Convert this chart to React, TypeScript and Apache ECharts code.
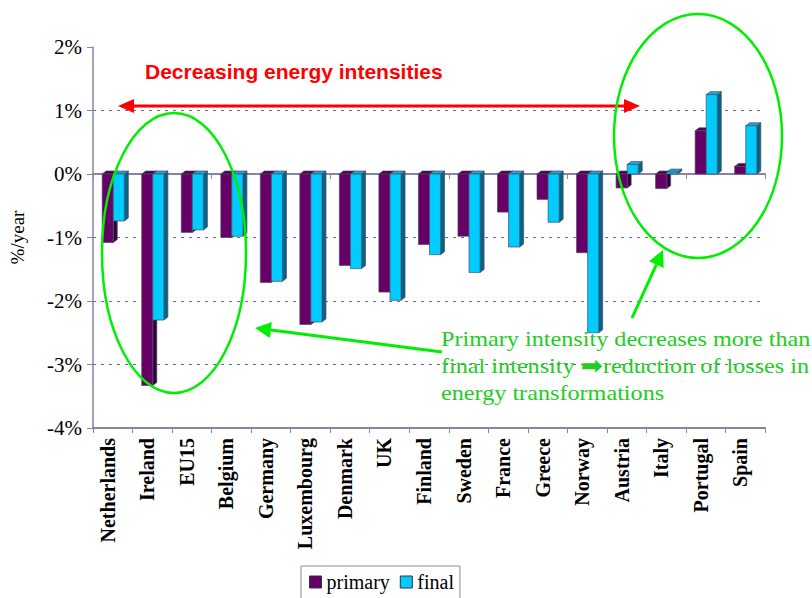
import React, { useEffect, useRef } from "react";
import * as echarts from "echarts";

// Average annual change in energy intensity, % per year
const countries = [
  "Netherlands", "Ireland", "EU15", "Belgium", "Germany", "Luxembourg", "Denmark", "UK",
  "Finland", "Sweden", "France", "Greece", "Norway", "Austria", "Italy", "Portugal", "Spain",
];
const primaryValues = [
  -1.08, -3.33, -0.92, -1.0, -1.71, -2.37, -1.44, -1.86, -1.11, -0.98, -0.6, -0.4, -1.24, -0.22, -0.23, 0.68, 0.12,
];
const finalValues = [
  -0.74, -2.3, -0.88, -0.98, -1.69, -2.33, -1.49, -1.99, -1.27, -1.55, -1.15, -0.76, -2.5, 0.15, 0.03, 1.25, 0.76,
];
const seriesNames = ["primary", "final"];
const yMin = -4;
const yMax = 2;
const yStep = 1;

const noteLines = [
  "Primary intensity decreases more than",
  "final intensity {a|\u27A1}reduction of losses in",
  "energy transformations",
];
const headline = "Decreasing energy intensities";

const EDGE = "#4a4a66";
const AXIS = "#8585a3";
const GREEN = "#00ee00";
const SERIF = "Liberation Serif";
const SANS = "Liberation Sans";

// Draws one bar as a front face with a shaded side and cap for a 3-D look.
function barRenderer(front: string, side: string, cap: string, shift: number) {
  return (params: any, api: any) => {
    const idx = api.value(0);
    const val = api.value(1);
    const base = api.coord([idx, 0]);
    const end = api.coord([idx, val]);
    const band = api.size([1, 0])[0];
    const w = band * 0.28;
    const left = base[0] + shift * w + 0.5;
    const right = left + w;
    const yTop = Math.min(base[1], end[1]);
    const yBot = Math.max(base[1], end[1]);
    const dx = 4;
    const dy = 3;
    return {
      type: "group",
      children: [
        {
          type: "polygon",
          shape: { points: [[right, yTop], [right + dx, yTop - dy], [right + dx, yBot - dy], [right, yBot]] },
          style: { fill: side, stroke: EDGE, lineWidth: 0.7 },
        },
        {
          type: "polygon",
          shape: { points: [[left, yTop], [left + dx, yTop - dy], [right + dx, yTop - dy], [right, yTop]] },
          style: { fill: cap, stroke: EDGE, lineWidth: 0.7 },
        },
        {
          type: "rect",
          shape: { x: left, y: yTop, width: w, height: yBot - yTop },
          style: { fill: front, stroke: EDGE, lineWidth: 0.7 },
        },
      ],
    };
  };
}

// Arrow head triangle pointing from tail to tip.
function arrowHead(tail: number[], tip: number[], len: number, half: number) {
  const vx = tip[0] - tail[0];
  const vy = tip[1] - tail[1];
  const d = Math.hypot(vx, vy);
  const ux = vx / d;
  const uy = vy / d;
  const bx = tip[0] - ux * len;
  const by = tip[1] - uy * len;
  return {
    base: [bx, by],
    points: [tip, [bx - uy * half, by + ux * half], [bx + uy * half, by - ux * half]],
  };
}

function arrow(tail: number[], tip: number[], color: string, width: number, len: number, half: number) {
  const head = arrowHead(tail, tip, len, half);
  return [
    {
      type: "line",
      z: 100,
      shape: { x1: tail[0], y1: tail[1], x2: head.base[0], y2: head.base[1] },
      style: { stroke: color, lineWidth: width },
    },
    { type: "polygon", z: 100, shape: { points: head.points }, style: { fill: color } },
  ];
}

export default function App() {
  const ref = useRef<HTMLDivElement>(null);

  useEffect(() => {
    if (!ref.current) return;
    const chart = echarts.init(ref.current, null, { renderer: "svg" });

    const redHeadL = arrowHead([640, 106], [118, 106], 16, 7);
    const redHeadR = arrowHead([118, 106], [640, 106], 16, 7);

    chart.setOption({
      animation: false,
      backgroundColor: "#ffffff",
      textStyle: { fontFamily: SERIF },
      grid: { left: 93, right: 47, top: 47, bottom: 170, containLabel: false },
      legend: {
        data: seriesNames,
        left: 301,
        top: 566,
        orient: "horizontal",
        icon: "rect",
        itemWidth: 12,
        itemHeight: 12,
        itemGap: 10,
        padding: [6, 6, 8, 8],
        borderColor: "#8a8aa0",
        borderWidth: 1,
        itemStyle: { borderColor: "#333344", borderWidth: 1 },
        textStyle: { fontFamily: SERIF, fontSize: 20, color: "#000" },
      },
      xAxis: [
        {
          type: "category",
          data: countries,
          position: "bottom",
          boundaryGap: true,
          axisLine: { onZero: false, lineStyle: { color: AXIS, width: 2 } },
          axisTick: { show: true, length: 5, lineStyle: { color: AXIS } },
          axisLabel: {
            interval: 0,
            rotate: 90,
            margin: 10,
            verticalAlign: "bottom",
            lineHeight: 10,
            fontFamily: SERIF,
            fontWeight: "bold",
            fontSize: 20,
            color: "#000",
          },
          splitLine: { show: false },
        },
        {
          type: "category",
          data: countries,
          position: "bottom",
          boundaryGap: true,
          axisLine: { onZero: true, lineStyle: { color: AXIS, width: 2 } },
          axisTick: { show: true, length: 5, lineStyle: { color: AXIS } },
          axisLabel: { show: false },
          splitLine: { show: false },
        },
      ],
      yAxis: {
        type: "value",
        min: yMin,
        max: yMax,
        interval: yStep,
        name: "%/year",
        nameLocation: "middle",
        nameGap: 66,
        nameRotate: 90,
        nameTextStyle: { fontFamily: SERIF, fontSize: 19, color: "#000" },
        axisLine: { show: true, lineStyle: { color: AXIS, width: 1.5 } },
        axisTick: { show: true, length: 6, lineStyle: { color: AXIS } },
        axisLabel: {
          margin: 11,
          fontFamily: SERIF,
          fontSize: 21,
          color: "#000",
          formatter: (v: number) => `${v}%`,
        },
        splitLine: {
          show: true,
          showMaxLine: false,
          showMinLine: false,
          lineStyle: { color: "#6e6e88", type: [3, 5], width: 1 },
        },
      },
      series: [
        {
          name: seriesNames[0],
          type: "custom",
          xAxisIndex: 0,
          itemStyle: { color: "#660066" },
          encode: { x: 0, y: 1 },
          data: primaryValues.map((v, i) => [i, v]),
          renderItem: barRenderer("#660066", "#34003a", "#4a004a", -1),
        },
        {
          name: seriesNames[1],
          type: "custom",
          xAxisIndex: 0,
          itemStyle: { color: "#00ccff" },
          encode: { x: 0, y: 1 },
          data: finalValues.map((v, i) => [i, v]),
          renderItem: barRenderer("#00ccff", "#00668a", "#1fa6d6", 0),
        },
      ],
      graphic: [
        {
          type: "text",
          z: 100,
          x: 145,
          y: 71,
          style: {
            text: headline,
            fill: "#ff0000",
            fontFamily: SANS,
            fontWeight: "bold",
            fontSize: 21,
            verticalAlign: "middle",
          },
        },
        {
          type: "line",
          z: 100,
          shape: { x1: redHeadL.base[0], y1: 106, x2: redHeadR.base[0], y2: 106 },
          style: { stroke: "#ff0000", lineWidth: 3 },
        },
        { type: "polygon", z: 100, shape: { points: redHeadL.points }, style: { fill: "#ff0000" } },
        { type: "polygon", z: 100, shape: { points: redHeadR.points }, style: { fill: "#ff0000" } },
        {
          type: "ellipse",
          z: 100,
          shape: { cx: 174, cy: 253, rx: 72, ry: 140 },
          style: { fill: "none", stroke: GREEN, lineWidth: 2.5 },
        },
        {
          type: "ellipse",
          z: 100,
          shape: { cx: 698, cy: 136, rx: 84, ry: 122 },
          style: { fill: "none", stroke: GREEN, lineWidth: 2.5 },
        },
        ...arrow([442, 352], [255, 328], GREEN, 3, 16, 8),
        ...arrow([632, 318], [663, 250], GREEN, 3, 16, 8),
        {
          type: "text",
          z: 100,
          x: 441,
          y: 325,
          scaleX: 1.1,
          style: {
            text: noteLines.join("\n"),
            fill: "#22cc22",
            fontFamily: SERIF,
            fontSize: 22,
            lineHeight: 27,
            verticalAlign: "top",
            rich: {
              a: {
                fill: "#22cc22",
                fontFamily: "DejaVu Sans",
                fontWeight: "bold",
                fontSize: 24,
                lineHeight: 27,
              },
            },
          },
        },
      ],
    });

    return () => chart.dispose();
  }, []);

  return (
    <div
      ref={ref}
      style={{ position: "fixed", left: 0, top: 0, width: 812, height: 598 }}
    />
  );
}
